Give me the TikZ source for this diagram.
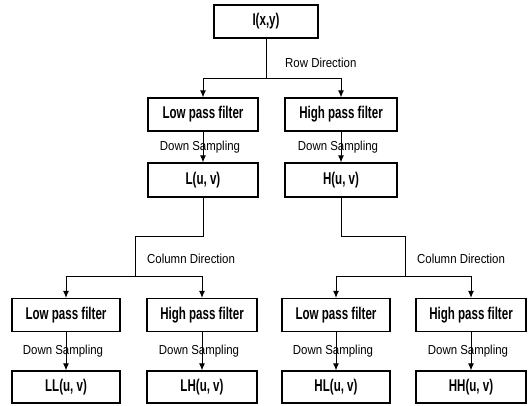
\documentclass[tikz,border=0pt]{standalone}
\usepackage{fontspec}
\setmainfont{Liberation Sans}
\newfontfamily\boxfont[FakeStretch=0.68]{Liberation Sans}
\newfontfamily\lblfont[FakeStretch=0.88]{Liberation Sans}
\usetikzlibrary{arrows.meta}
\begin{document}
\begin{tikzpicture}[x=1pt,y=-1pt,
  box/.style={draw, line width=1.2pt, minimum height=33pt, inner sep=0pt,
    font=\boxfont\bfseries\fontsize{17}{17}\selectfont},
  lbl/.style={inner sep=0pt, font=\lblfont\fontsize{13}{13}\selectfont},
  conn/.style={line width=1pt},
  arr/.style={conn, -{Latex[length=7pt,width=6pt]}}]
\useasboundingbox (0,0) rectangle (529,405);
% boxes
\node[box, minimum width=104pt] (I) at (266,21.5) {I(x,y)};
\node[box, minimum width=110pt] (LPF1) at (203,114.5) {Low pass filter};
\node[box, minimum width=112pt] (HPF1) at (341,114.5) {High pass filter};
\node[box, minimum width=110pt, minimum height=34pt] (L) at (203,180) {L(u, v)};
\node[box, minimum width=112pt, minimum height=34pt] (H) at (341,180) {H(u, v)};
\node[box, minimum width=108pt] (LPF2) at (66,315) {Low pass filter};
\node[box, minimum width=110pt] (HPF2) at (202,315) {High pass filter};
\node[box, minimum width=108pt] (LPF3) at (336,315) {Low pass filter};
\node[box, minimum width=110pt] (HPF3) at (471,315) {High pass filter};
\node[box, minimum width=108pt, minimum height=32pt] (LL) at (66,387) {LL(u, v)};
\node[box, minimum width=110pt, minimum height=32pt] (LH) at (202,387) {LH(u, v)};
\node[box, minimum width=108pt, minimum height=32pt] (HL) at (336,387) {HL(u, v)};
\node[box, minimum width=110pt, minimum height=32pt] (HH) at (471,387) {HH(u, v)};
% row direction split
\coordinate (rj) at (266,78);
\draw[conn] (I) -- (rj);
\draw[arr] (rj) -| (LPF1);
\draw[arr] (rj) -| (HPF1);
\node[lbl, anchor=west] (rowlbl) at (285,63) {Row Direction};
% down sampling (first level)
\draw[arr] (LPF1) -- node[lbl, xshift=-3pt] {Down Sampling} (L);
\draw[arr] (HPF1) -- node[lbl, xshift=-3pt] {Down Sampling} (H);
% column direction, left
\coordinate (la) at (203,236);
\coordinate (lb) at (135,236);
\coordinate (lj) at (135,276);
\draw[conn] (L) -- (la) -- (lb) -- (lj);
\draw[arr] (lj) -| (LPF2);
\draw[arr] (lj) -| (HPF2);
\node[lbl, anchor=west] (collblL) at (147,259) {Column Direction};
% column direction, right
\coordinate (ra) at (341,236);
\coordinate (rb) at (405,236);
\coordinate (rjj) at (405,276);
\draw[conn] (H) -- (ra) -- (rb) -- (rjj);
\draw[arr] (rjj) -| (LPF3);
\draw[arr] (rjj) -| (HPF3);
\node[lbl, anchor=west] (collblR) at (417,259) {Column Direction};
% down sampling (second level)
\draw[arr] (LPF2) -- node[lbl, xshift=-3pt] {Down Sampling} (LL);
\draw[arr] (HPF2) -- node[lbl, xshift=-3pt] {Down Sampling} (LH);
\draw[arr] (LPF3) -- node[lbl, xshift=-3pt] {Down Sampling} (HL);
\draw[arr] (HPF3) -- node[lbl, xshift=-3pt] {Down Sampling} (HH);
\end{tikzpicture}
\end{document}
